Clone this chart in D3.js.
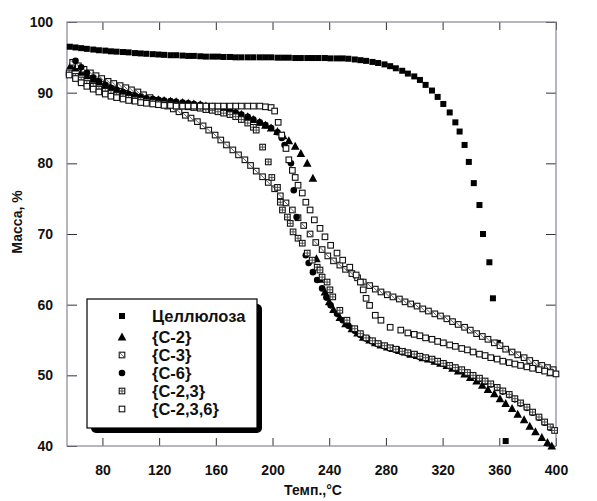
<!DOCTYPE html>
<meta charset="utf-8">
<title>TGA</title>
<style>
body{margin:0;background:#fff}
svg text{font-family:"Liberation Sans",Arial,sans-serif;font-weight:bold;fill:#111}
</style>
<svg id="chart" width="597" height="501"></svg>
<script src="https://cdn.jsdelivr.net/npm/d3@7/dist/d3.min.js"></script>
<script>
// values: [temperature °C, mass %]
var cellulose = [[57,96.5],[61,96.4],[65,96.3],[69,96.2],[73.5,96.1],[77.5,96.0],[82,95.95],[86,95.85],[90,95.8],[94.5,95.75],[98.5,95.7],[103,95.6],[107,95.55],[111,95.5],[115.5,95.45],[119.5,95.4],[123.5,95.35],[128,95.3],[132,95.3],[136.5,95.25],[140.5,95.2],[144.5,95.2],[149,95.15],[153,95.1],[157.5,95.1],[161.5,95.1],[165.5,95.05],[170,95.05],[174,95.0],[178,95.0],[182.5,95.0],[186.5,95.0],[191,95.0],[195,95.0],[199,95.0],[203.5,94.95],[207.5,94.95],[211.5,94.95],[216,94.9],[220,94.9],[224.5,94.9],[228.5,94.9],[232.5,94.9],[237,94.9],[241,94.85],[245.5,94.85],[249.5,94.85],[253.5,94.8],[258,94.7],[262,94.6],[266,94.5],[270.5,94.35],[274.5,94.2],[279,94.0],[283,93.75],[287,93.45],[291.5,93.1],[295.5,92.7],[300,92.3],[304,91.8],[308,91.1],[312.5,90.3],[316.5,89.4],[320.5,88.4],[325,87.2],[329,85.8],[332,84.5],[335.5,82.6],[338.5,80.2],[342,77.2],[346,74.1],[348.5,70.0],[353,66.0],[355.5,60.9],[359,54.6],[364.5,40.7]];

var c2 = [[57.5,93.8],[61,93.5],[65,92.9],[69,92.4],[73.5,91.9],[77.5,91.5],[82,91.1],[86,90.7],[90,90.4],[94.5,90.1],[98.5,89.9],[103,89.6],[107,89.4],[111,89.2],[115.5,89.1],[119.5,89.0],[123.5,88.9],[128,88.8],[132,88.7],[136.5,88.6],[140.5,88.5],[144.5,88.4],[149,88.3],[153,88.1],[157.5,88.0],[161.5,87.8],[165.5,87.6],[170,87.4],[174,87.2],[178,86.9],[182.5,86.6],[186.5,86.2],[191,85.8],[195,85.4],[199,85.0],[203.5,84.5],[207.5,83.9],[211.5,83.2],[216,82.4],[220,81.4],[224.5,80.0],[228.5,77.9],
  [231,66.5],[233.5,63.6],[237,61.8],[240,60.4],[243,59.3],[247.5,58.2],[251.5,57.3],[256,56.6],[260,56.0],[264,55.4],[268.5,55.0],[272.5,54.6],[276.5,54.3],[281,54.0],[285,53.8],[289.5,53.5],[293.5,53.3],[297.5,53.0],[302,52.8],[306,52.5],[310,52.3],[314.5,52.0],[318.5,51.7],[323,51.4],[327,51.0],[331,50.6],[335.5,50.2],[339.5,49.7],[344,49.2],[348,48.6],[352,48.0],[356.5,47.4],[360.5,46.7],[364.5,46.0],[369,45.3],[373,44.5],[377.5,43.7],[381.5,42.8],[385.5,42.0],[390,41.2],[394,40.5],[397,40.0]];

var c3 = [[59,94.3],[63,93.8],[67,93.3],[71.5,92.8],[75.5,92.4],[79.5,92.0],[84,91.6],[88,91.3],[92.5,91.0],[96.5,90.7],[100.5,90.4],[105,90.1],[109,89.7],[113.5,89.3],[117.5,88.9],[121.5,88.5],[126,88.1],[130,87.7],[134,87.3],[138.5,86.8],[142.5,86.4],[147,85.9],[151,85.3],[155,84.7],[159.5,84.0],[163.5,83.3],[167.5,82.6],[172,81.9],[176,81.2],[180.5,80.5],[184.5,79.7],[188.5,78.9],[193,78.1],[197,77.3],[201.5,76.4],[205.5,75.4],[209.5,74.4],[214,73.4],[218,72.3],[222,71.2],[226.5,70.0],[230.5,68.8],[235,67.8],[239,66.9],[243,66.2],[247.5,65.6],[251.5,65.0],[256,64.4],[260,63.8],[264,63.2],[268.5,62.7],[272.5,62.2],[276.5,61.8],[281,61.4],[285,61.1],[289.5,60.8],[293.5,60.4],[297.5,60.1],[302,59.8],[306,59.4],[310,59.1],[314.5,58.7],[318.5,58.4],[323,58.0],[327,57.6],[331,57.2],[335.5,56.8],[339.5,56.4],[344,55.9],[348,55.5],[352,55.1],[356.5,54.6],[360.5,54.2],[364.5,53.7],[369,53.3],[373,52.9],[377.5,52.5],[381.5,52.1],[385.5,51.7],[390,51.4],[394,51.1],[398,50.8]];

var c6 = [[61,94.5],[65,93.6],[69,92.8],[73.5,92.1],[77.5,91.6],[82,91.1],[86,90.7],[90,90.4],[94.5,90.1],[98.5,89.8],[103,89.6],[107,89.4],[111,89.2],[115.5,89.1],[119.5,89.0],[123.5,88.9],[128,88.8],[132,88.7],[136.5,88.6],[140.5,88.5],[144.5,88.4],[149,88.3],[153,88.1],[157.5,88.0],[161.5,87.8],[165.5,87.6],[170,87.4],[174,87.2],[178,86.9],[182.5,86.6],[186.5,86.2],[191,85.8],[195,85.4],[199,85.0],[203.5,84.4],[206.5,83.6],[208.5,82.6],[213,80.0],[215,76.2],[217,72.4],[223.5,67.0],[225.5,65.9],[228.5,64.6],[231.5,63.5],[235,62.3],[238,61.0],[241,59.9],[245.5,58.7],[249.5,57.8],[253.5,57.0],[258,56.3],[262,55.7],[266,55.2],[270.5,54.8],[274.5,54.4],[279,54.1],[283,53.8],[287,53.6],[291.5,53.3],[295.5,53.1],[300,52.9],[304,52.6],[308,52.4],[312.5,52.2],[316.5,51.9],[320.5,51.6],[325,51.3],[329,51.0],[333.5,50.7],[337.5,50.3],[341.5,49.9],[346,49.5],[350,49.1],[354,48.7],[358.5,48.2],[362.5,47.7],[367,47.2],[371,46.6],[375,46.0],[379.5,45.4],[383.5,44.7],[388,44.0],[392,43.3],[396,42.6]];

var c23 = [[56.5,92.8],[61,92.3],[65,91.8],[69,91.3],[73.5,90.9],[77.5,90.5],[82,90.2],[86,89.9],[90,89.6],[94.5,89.4],[98.5,89.2],[103,89.0],[107,88.9],[111,88.7],[115.5,88.6],[119.5,88.5],[123.5,88.4],[128,88.3],[132,88.2],[136.5,88.1],[140.5,88.0],[144.5,87.9],[149,87.8],[153,87.6],[157.5,87.5],[161.5,87.3],[165.5,87.1],[170,86.9],[174,86.6],[178,86.2],[182.5,85.7],[186.5,85.1],[188.5,84.7],[193,82.3],[197,80.2],[199.5,78.0],[203.5,76.6],[205.5,74.5],[207,73.4],[210.5,72.4],[212.5,71.5],[214.5,70.3],[218,69.4],[221,68.7],[224.5,67.3],[228,66.3],[231.5,65.3],[233.5,64.9],[235,63.9],[238.5,63.2],[240.5,62.1],[242.5,61.1],[247.5,59.2],[252.5,57.8],[258,56.6],[262,55.9],[266,55.3],[270.5,54.9],[274.5,54.5],[279,54.2],[283,53.9],[287,53.7],[291.5,53.4],[295.5,53.2],[300,53.0],[304,52.7],[308,52.5],[312.5,52.3],[316.5,52.0],[320.5,51.7],[325,51.4],[329,51.1],[333.5,50.8],[337.5,50.4],[341.5,50.0],[346,49.6],[350,49.2],[354,48.8],[358.5,48.3],[362.5,47.8],[367,47.3],[371,46.7],[375,46.1],[379.5,45.5],[383.5,44.8],[388,44.1],[392,43.4],[396,42.7],[399,42.2]];

var c236 = [[56.5,92.5],[61,92.0],[65,91.4],[69,90.9],[73.5,90.5],[77.5,90.1],[82,89.8],[86,89.5],[90,89.3],[94.5,89.1],[98.5,88.9],[103,88.8],[107,88.6],[111,88.5],[115.5,88.4],[119.5,88.3],[123.5,88.2],[128,88.2],[132,88.1],[136.5,88.1],[140.5,88.1],[144.5,88.1],[149,88.1],[153,88.1],[157.5,88.1],[161.5,88.1],[165.5,88.1],[170,88.1],[174,88.1],[178,88.1],[182.5,88.1],[186.5,88.1],[191,88.1],[195,88.0],[199,87.9],[201.5,87.4],[204,85.8],[206.5,84.0],[209.5,82.1],[211.5,80.5],[214,79.0],[216,78.0],[218,76.9],[221,75.8],[223.5,74.5],[226.5,73.4],[229.5,72.0],[233.5,70.8],[237,69.6],[241,68.4],[245.5,67.3],[249.5,66.3],[254.5,65.3],[259,64.2],[262,63.2],[264,62.1],[266,60.9],[268.5,59.9],[272.5,58.5],[276.5,57.8],[283,56.8],[290.5,56.4],[295.5,56.0],[300,55.8],[304,55.6],[308,55.3],[312.5,55.1],[316.5,54.8],[320.5,54.6],[325,54.3],[329,54.1],[333.5,53.8],[337.5,53.6],[341.5,53.3],[346,53.0],[350,52.8],[354,52.5],[358.5,52.3],[362.5,52.0],[367,51.8],[371,51.6],[375,51.4],[379.5,51.2],[383.5,51.0],[388,50.8],[392,50.6],[396,50.4],[400,50.2]];

var seriesNames = ["Целлюлоза", "{С-2}", "{С-3}", "{С-6}", "{С-2,3}", "{С-2,3,6}"];
var seriesMarks = ["square", "triangle", "diag", "dot", "grid", "open"];
var seriesData = [cellulose, c2, c3, c6, c23, c236];

var xTicks = [80, 120, 160, 200, 240, 280, 320, 360, 400];
var yTicks = [40, 50, 60, 70, 80, 90, 100];

var svg = d3.select("#chart");
var plotL = 67, plotR = 556, plotT = 22, plotB = 446;

var x = d3.scaleLinear().domain([55, 400]).range([plotL, plotR]);
var y = d3.scaleLinear().domain([40, 100]).range([plotB, plotT]);

// axes, ticks pointing inward
svg.append("g").attr("transform", "translate(0," + plotB + ")")
  .call(d3.axisBottom(x).tickValues(xTicks).tickSize(-8).tickPadding(19))
  .attr("class", "ax");
svg.append("g").attr("transform", "translate(0," + plotT + ")")
  .call(d3.axisTop(x).tickValues(xTicks).tickSize(-8).tickFormat(""))
  .attr("class", "ax");
svg.append("g").attr("transform", "translate(" + plotL + ",0)")
  .call(d3.axisLeft(y).tickValues(yTicks).tickSize(-10).tickPadding(14))
  .attr("class", "ax");
svg.append("g").attr("transform", "translate(" + plotR + ",0)")
  .call(d3.axisRight(y).tickValues(yTicks).tickSize(-10).tickFormat(""))
  .attr("class", "ax");

svg.selectAll(".ax .domain").remove();
svg.selectAll(".ax line").attr("stroke", "#333").attr("stroke-width", 1);
svg.selectAll(".ax text").attr("font-size", 14).attr("font-family", null);

svg.append("rect")
  .attr("x", plotL).attr("y", plotT)
  .attr("width", plotR - plotL).attr("height", plotB - plotT)
  .attr("fill", "none").attr("stroke", "#85859a").attr("stroke-width", 1.2);

svg.append("text").attr("x", 313).attr("y", 495)
  .attr("text-anchor", "middle").attr("font-size", 14).text("Темп.,°C");
svg.append("text").attr("transform", "translate(22,222) rotate(-90)")
  .attr("text-anchor", "middle").attr("font-size", 14).text("Масса, %");

function drawMark(g, type) {
  if (type == "square") {
    g.append("rect").attr("x", -3).attr("y", -3).attr("width", 6).attr("height", 6).attr("fill", "#000");
  } else if (type == "triangle") {
    g.append("path").attr("d", "M0,-4.5L4.3,3.5L-4.3,3.5Z").attr("fill", "#000");
  } else if (type == "dot") {
    g.append("circle").attr("r", 3.3).attr("fill", "#000");
  } else {
    g.append("rect").attr("x", -2.8).attr("y", -2.8).attr("width", 5.6).attr("height", 5.6)
      .attr("fill", "#fff").attr("stroke", "#111").attr("stroke-width", 1.1);
    if (type == "diag") {
      g.append("path").attr("d", "M-2.8,-2.8L2.8,2.8").attr("stroke", "#555").attr("stroke-width", 0.9);
    }
    if (type == "grid") {
      g.append("path").attr("d", "M0,-2.8V2.8M-2.8,0H2.8").attr("stroke", "#444").attr("stroke-width", 0.9);
    }
  }
}

var plot = svg.append("g");
seriesData.forEach(function(data, i) {
  plot.append("g").selectAll("g")
    .data(data)
    .join("g")
    .attr("transform", function(d) { return "translate(" + x(d[0]) + "," + y(d[1]) + ")"; })
    .each(function() { drawMark(d3.select(this), seriesMarks[i]); });
});

// legend
var lg = svg.append("g");
lg.append("rect").attr("x", 91).attr("y", 304).attr("width", 171).attr("height", 129)
  .attr("rx", 5).attr("fill", "#000");
lg.append("rect").attr("x", 87).attr("y", 299).attr("width", 170).attr("height", 129)
  .attr("fill", "#fff").attr("stroke", "#000").attr("stroke-width", 1.2);

var rowY = [316, 337, 355, 373, 391, 409];
seriesNames.forEach(function(name, i) {
  var row = lg.append("g").attr("transform", "translate(122," + rowY[i] + ")");
  drawMark(row, seriesMarks[i]);
  lg.append("text").attr("x", 152).attr("y", rowY[i]).attr("dy", "0.35em")
    .attr("font-size", 16.5).text(name);
});
</script>
